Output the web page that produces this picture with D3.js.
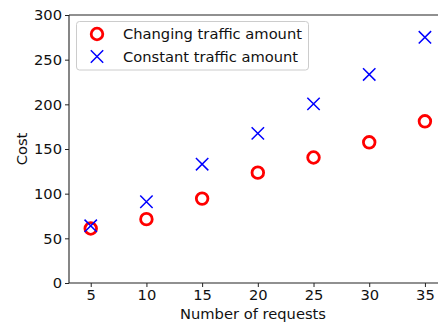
<!DOCTYPE html>
<html><head><meta charset="utf-8">
<script src="https://cdn.jsdelivr.net/npm/d3@7"></script>
<style>body{margin:0;background:#fff}svg{display:block}text{font-family:"DejaVu Sans",sans-serif}</style>
</head><body>
<svg id="c" width="438" height="325"></svg>
<script>
const requests = [5, 10, 15, 20, 25, 30, 35];
const changingCost = [61, 71.5, 94.5, 123.5, 140.5, 157.5, 181];
const constantCost = [64, 91, 133, 167.5, 200.5, 233.5, 275];
const seriesNames = ["Changing traffic amount", "Constant traffic amount"];
const xTicks = [5, 10, 15, 20, 25, 30, 35];
const yTicks = [0, 50, 100, 150, 200, 250, 300];

const svg = d3.select("#c");
const L = 69, T = 15, B = 283;
const x = d3.scaleLinear().domain([3.05, 37]).range([L, L + (37 - 3.05) * 11.14]);
const y = d3.scaleLinear().domain([0, 300]).range([B, T]);
const fs = 14.7;

const defs = svg.append("defs");
defs.append("clipPath").attr("id", "clip").append("rect").attr("x", L).attr("y", T - 8).attr("width", 438 - L).attr("height", B - T + 16);

// axes
const xa = svg.append("g").attr("transform", `translate(0,${B})`)
  .call(d3.axisBottom(x).tickValues(xTicks).tickSize(4).tickPadding(3));
const ya = svg.append("g").attr("transform", `translate(${L},0)`)
  .call(d3.axisLeft(y).tickValues(yTicks).tickSize(4).tickPadding(3));
[xa, ya].forEach(a => {
  a.select(".domain").remove();
  a.selectAll("line").attr("stroke", "#222");
  a.selectAll("text").attr("font-size", fs).attr("fill", "#111").style("font-family", '"DejaVu Sans",sans-serif');
});
// spines
svg.append("line").attr("x1", L).attr("x2", L).attr("y1", T).attr("y2", B).attr("stroke", "#222").attr("stroke-width", 1.1);
svg.append("line").attr("x1", L).attr("x2", 438).attr("y1", B).attr("y2", B).attr("stroke", "#222").attr("stroke-width", 1.1);
svg.append("line").attr("x1", L).attr("x2", 438).attr("y1", T).attr("y2", T).attr("stroke", "#222").attr("stroke-width", 1.1);

// labels
svg.append("text").attr("x", 253).attr("y", 319).attr("text-anchor", "middle").attr("font-size", fs).attr("fill", "#111").text("Number of requests");
svg.append("text").attr("transform", `translate(27,${(T + B) / 2}) rotate(-90)`).attr("text-anchor", "middle").attr("font-size", fs).attr("fill", "#111").text("Cost");

const plot = svg.append("g").attr("clip-path", "url(#clip)");
const R = 5.8, C = 6.2;
function cross(g, cx, cy) {
  g.append("path").attr("d", `M${cx - C},${cy - C}L${cx + C},${cy + C}M${cx - C},${cy + C}L${cx + C},${cy - C}`)
    .attr("stroke", "#0000ff").attr("stroke-width", 1.5).attr("fill", "none");
}
function circ(g, cx, cy) {
  g.append("circle").attr("cx", cx).attr("cy", cy).attr("r", R).attr("fill", "none").attr("stroke", "#ff0000").attr("stroke-width", 2.8);
}
requests.forEach((r, i) => circ(plot, x(r), y(changingCost[i])));
requests.forEach((r, i) => cross(plot, x(r), y(constantCost[i])));

// legend
const lg = svg.append("g");
lg.append("rect").attr("x", 76.5).attr("y", 21.5).attr("width", 232).attr("height", 48.5).attr("rx", 3)
  .attr("fill", "#fff").attr("fill-opacity", 0.8).attr("stroke", "#ccc").attr("stroke-width", 1);
circ(lg, 97, 34);
cross(lg, 97, 56.5);
lg.append("text").attr("x", 123).attr("y", 34).attr("dy", "0.35em").attr("font-size", fs).attr("fill", "#111").text(seriesNames[0]);
lg.append("text").attr("x", 123).attr("y", 56.5).attr("dy", "0.35em").attr("font-size", fs).attr("fill", "#111").text(seriesNames[1]);
</script>
</body></html>
